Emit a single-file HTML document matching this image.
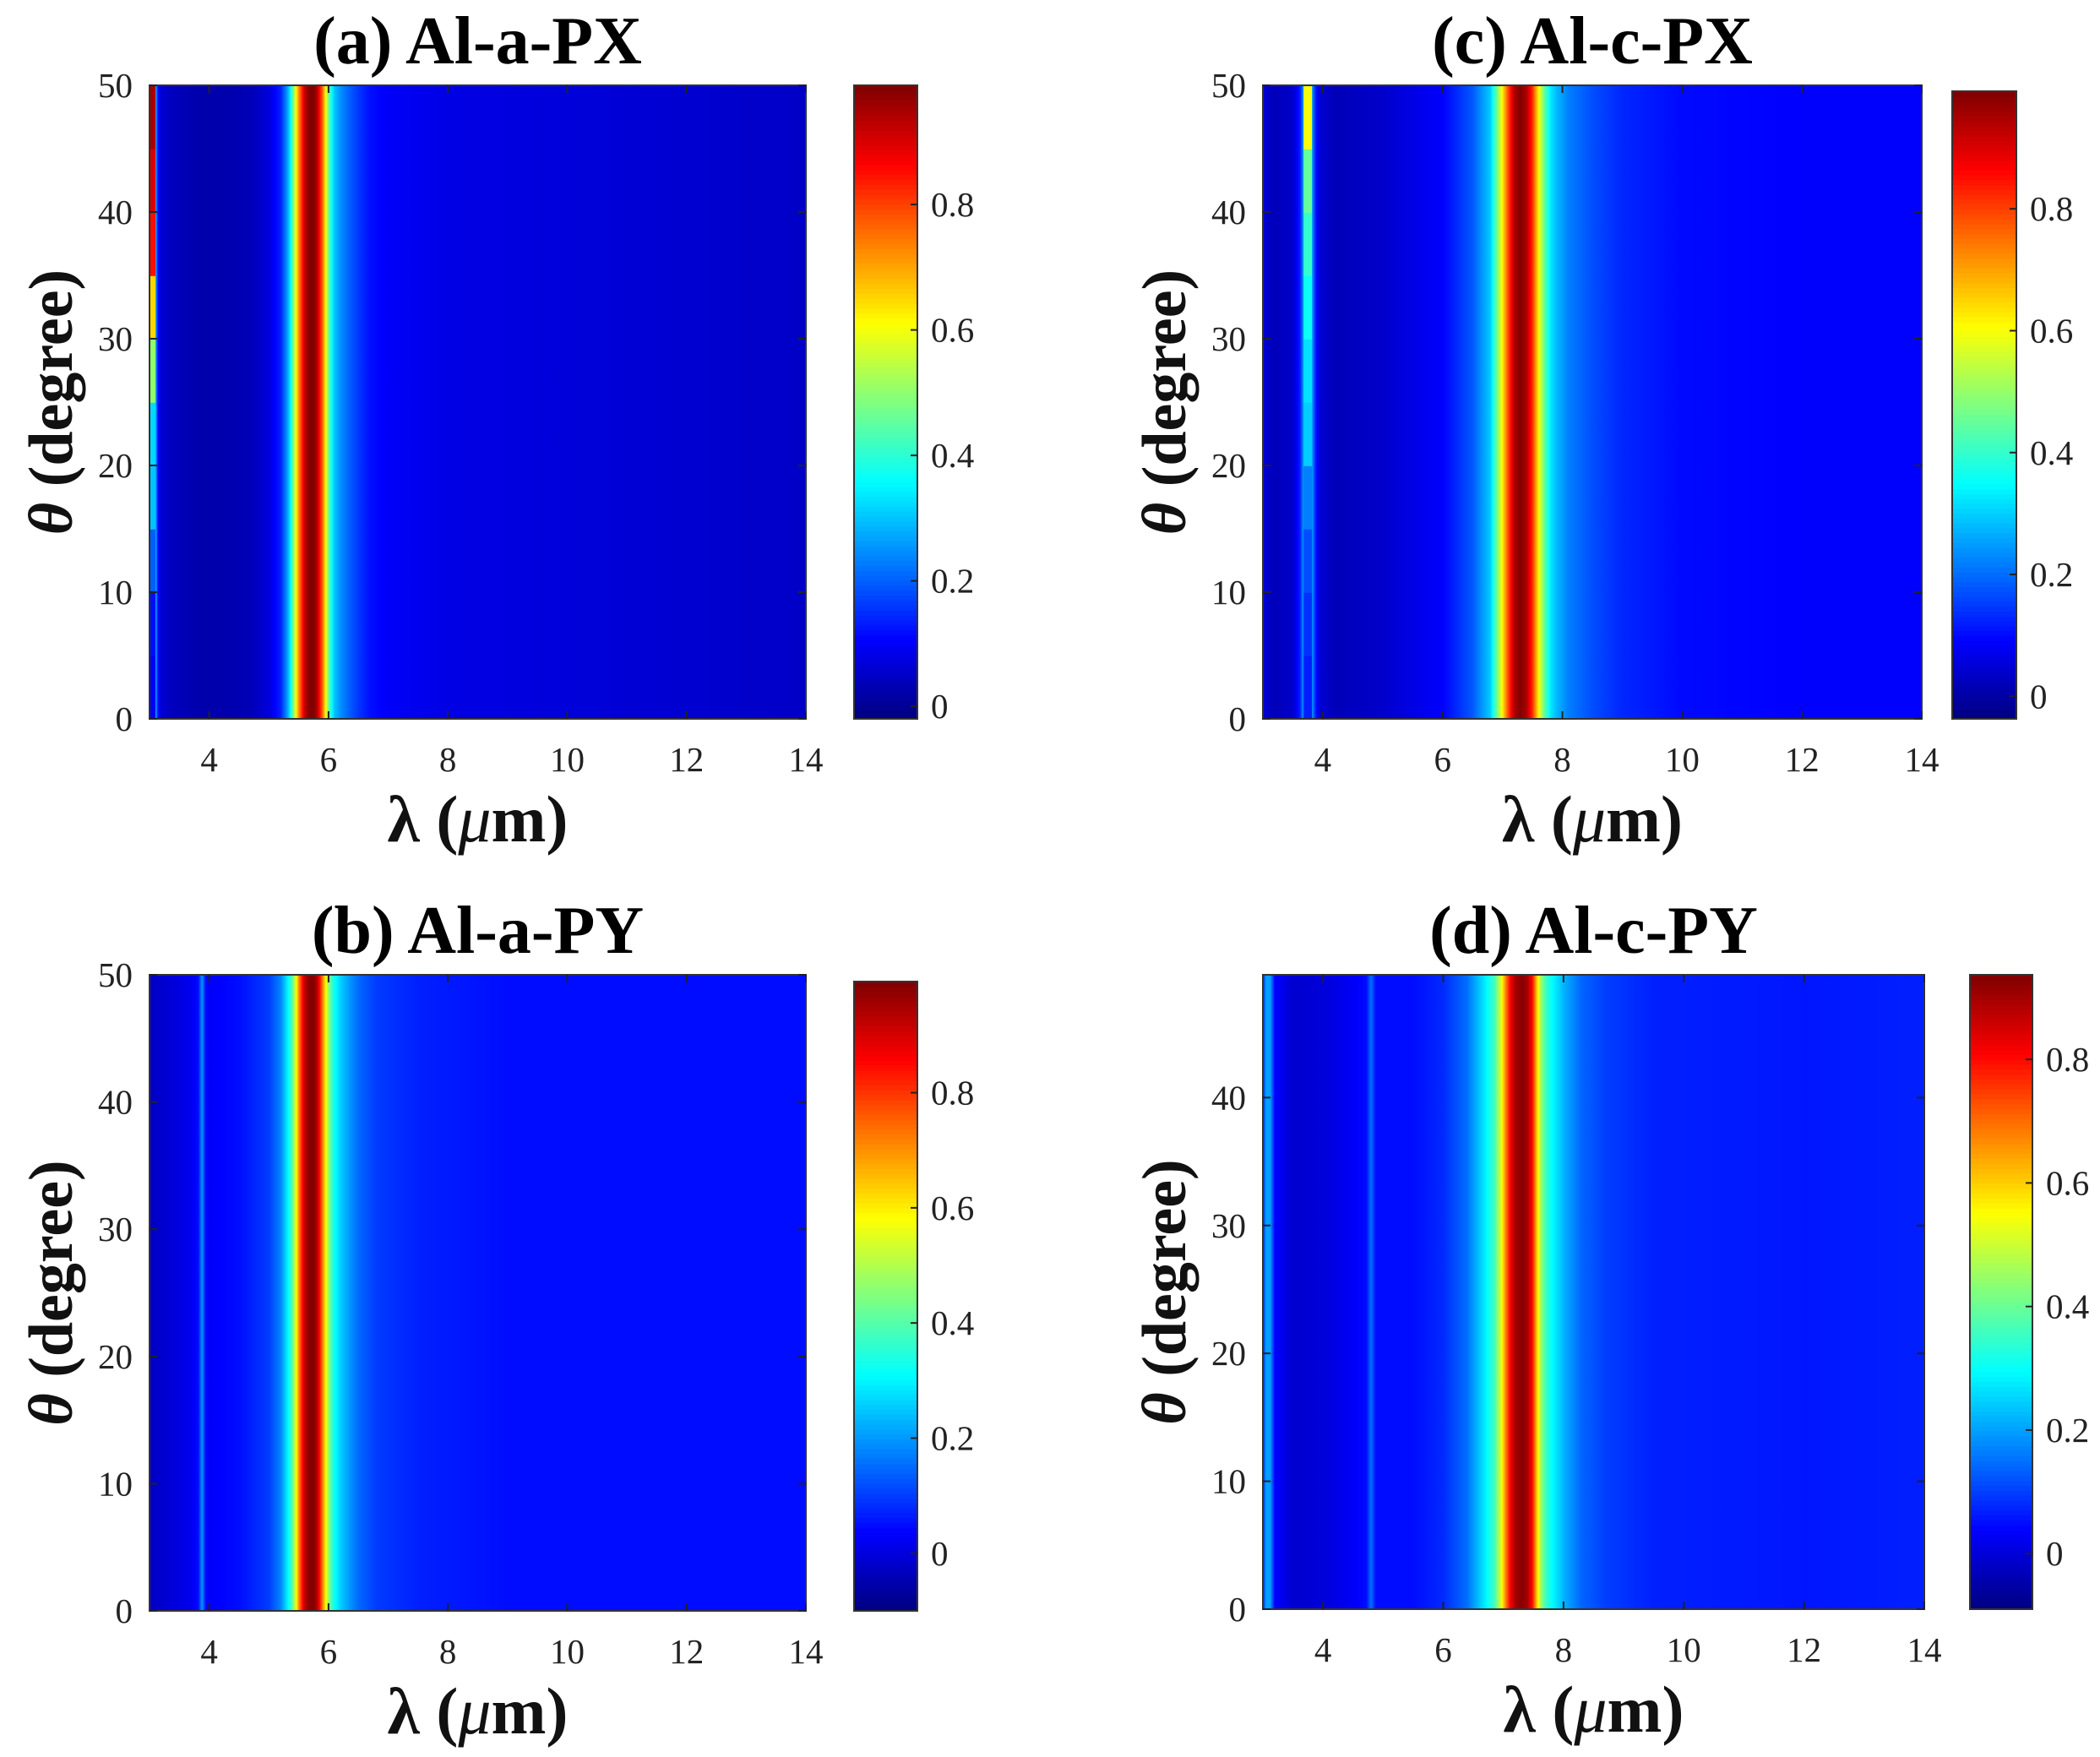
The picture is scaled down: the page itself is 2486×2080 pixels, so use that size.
<!DOCTYPE html>
<html><head><meta charset="utf-8">
<style>
html,body{margin:0;padding:0;background:#fff;}
svg{display:block;}
text{font-family:"Liberation Serif",serif;fill:#222;}
.tick{font-size:41px;}
.ttl{font-size:80px;font-weight:bold;fill:#000;}
.lab{font-size:78px;font-weight:bold;fill:#111;}
.ylab{font-size:74px;font-weight:bold;fill:#111;}
</style></head>
<body>
<svg id="fig" width="2486" height="2080" viewBox="0 0 2486 2080" xmlns="http://www.w3.org/2000/svg"><defs id="defs"></defs></svg>
<script>
// ---- data ----
const xTicks = [4,6,8,10,12,14];
const yTicks = [0,10,20,30,40,50];
const yTicksD = [0,10,20,30,40];
const cbTicks = [0,0.2,0.4,0.6,0.8];
const cbLabels = ["0","0.2","0.4","0.6","0.8"];
const thetaBins = [0,5,10,15,20,25,30,35,40,45,50];

const lamA = [3.0,3.1,3.14,3.2,3.4,3.8,4.3,4.7,5.0,5.2,5.3,5.35,5.4,5.45,5.5,5.55,5.6,5.65,5.7,5.75,5.8,5.85,5.9,5.95,6.0,6.05,6.1,6.2,6.35,6.5,6.7,7,8,10,12,14];
const valA = [0.3,0.3,0.12,0.06,0.04,0.025,0.025,0.035,0.07,0.14,0.25,0.33,0.45,0.6,0.72,0.82,0.92,0.97,0.99,0.99,0.95,0.86,0.76,0.62,0.47,0.37,0.3,0.25,0.2,0.16,0.12,0.1,0.08,0.07,0.06,0.05];
const stripA = [0.1,0.12,0.2,0.3,0.32,0.5,0.65,0.85,0.9,0.95];

const lamC = [3.0,3.2,3.5,3.62,3.7,3.8,3.88,3.95,4.2,5,6,6.5,6.8,6.9,7.0,7.1,7.2,7.3,7.4,7.5,7.6,7.7,7.8,7.9,8.1,8.5,9,10,12,14];
const valC = [0.05,0.02,0.04,0.12,0.3,0.3,0.12,0.05,0.02,0.04,0.09,0.18,0.3,0.45,0.62,0.8,0.95,0.99,0.95,0.82,0.62,0.45,0.33,0.28,0.22,0.17,0.13,0.1,0.09,0.09];
const stripC = [0.12,0.14,0.17,0.22,0.3,0.32,0.36,0.4,0.45,0.6];

const lamB = [3.0,3.3,3.7,3.82,3.88,3.94,4.0,4.5,5.0,5.2,5.3,5.38,5.45,5.5,5.55,5.6,5.65,5.7,5.75,5.8,5.85,5.9,5.95,6.0,6.05,6.1,6.2,6.35,6.5,6.8,7.5,9,11,14];
const valB = [-0.03,-0.01,0.02,0.05,0.2,0.05,0.03,0.05,0.1,0.18,0.28,0.38,0.55,0.7,0.82,0.92,0.97,0.99,0.99,0.95,0.85,0.72,0.6,0.47,0.38,0.32,0.26,0.2,0.15,0.1,0.07,0.05,0.05,0.05];

const lamD = [3.0,3.05,3.12,3.2,3.5,4.0,4.5,4.72,4.8,4.88,5.5,6,6.4,6.7,6.85,6.95,7.05,7.12,7.2,7.3,7.4,7.48,7.55,7.62,7.7,7.8,8.0,8.3,8.7,9.5,12,14];
const valD = [0.05,0.2,0.2,0.04,-0.01,0.0,0.03,0.05,0.15,0.05,0.05,0.08,0.15,0.28,0.36,0.5,0.7,0.82,0.9,0.93,0.9,0.8,0.62,0.46,0.36,0.3,0.22,0.14,0.1,0.07,0.06,0.07];

// ---- layout ----
const panels = [
 {id:"a",title:"(a) Al-a-PX",lam:lamA,val:valA,strip:stripA,stripL:[3.0,3.1],plot:[177,101,954,851],cb:[1011,101,1086,851],clim:[-0.02,0.99],ylim:[0,50],yt:yTicks},
 {id:"c",title:"(c) Al-c-PX",lam:lamC,val:valC,strip:stripC,stripL:[3.68,3.82],plot:[1495,101,2275,851],cb:[2311,108,2387,851],clim:[-0.037,0.993],ylim:[0,50],yt:yTicks},
 {id:"b",title:"(b) Al-a-PY",lam:lamB,val:valB,strip:null,plot:[177,1154,954,1907],cb:[1011,1162,1086,1907],clim:[-0.1,0.993],ylim:[0,50],yt:yTicks},
 {id:"d",title:"(d) Al-c-PY",lam:lamD,val:valD,strip:null,plot:[1495,1154,2278,1905],cb:[2332,1154,2406,1905],clim:[-0.09,0.937],ylim:[0,49.6],yt:yTicksD}
];
const NS="http://www.w3.org/2000/svg";
const svg=document.getElementById('fig');
const defs=document.getElementById('defs');
function el(tag,attrs,parent){const e=document.createElementNS(NS,tag);for(const k in attrs)e.setAttribute(k,attrs[k]);(parent||svg).appendChild(e);return e;}
function clamp(v){return Math.max(0,Math.min(1,v));}
function jet(t){t=clamp(t);const r=clamp(1.5-Math.abs(4*t-3)),g=clamp(1.5-Math.abs(4*t-2)),b=clamp(1.5-Math.abs(4*t-1));return `rgb(${Math.round(r*255)},${Math.round(g*255)},${Math.round(b*255)})`;}

panels.forEach(p=>{
  const [x0,y0,x1,y1]=p.plot;
  const xs=v=>x0+(v-3)/(14-3)*(x1-x0);
  const ys=v=>y1-(v-p.ylim[0])/(p.ylim[1]-p.ylim[0])*(y1-y0);
  const col=v=>jet((v-p.clim[0])/(p.clim[1]-p.clim[0]));
  const g=el('g',{});
  
  
  // gradient across wavelength from data arrays
  const grad=el('linearGradient',{id:'grad-'+p.id,gradientUnits:'userSpaceOnUse',x1:x0,y1:0,x2:x1,y2:0},defs);
  const W=x1-x0;
  for(let i=0;i<p.lam.length;i++){
    const sub=(i<p.lam.length-1)?6:1;
    for(let s=0;s<sub;s++){
      const f=s/sub;
      const l=p.lam[i]+(i<p.lam.length-1?(p.lam[i+1]-p.lam[i])*f:0);
      const v=p.val[i]+(i<p.lam.length-1?(p.val[i+1]-p.val[i])*f:0);
      el('stop',{offset:((xs(l)-x0)/W).toFixed(5),'stop-color':col(v)},grad);
    }
  }
  const hm=el('g',{},g);
  
  
  const bg=el('rect',{x:x0,y:y0,width:W,height:y1-y0,fill:`url(#grad-${p.id})`},hm);
  
  
  if(p.strip){
    for(let j=0;j<p.strip.length;j++){
      const ta=thetaBins[j],tb=thetaBins[j+1];
      const r=el('rect',{x:xs(p.stripL[0]),y:ys(tb),width:xs(p.stripL[1])-xs(p.stripL[0]),height:ys(ta)-ys(tb)+0.8,fill:col(p.strip[j])},hm);
      
      
    }
  }
  const box=el('rect',{x:x0,y:y0,width:W,height:y1-y0,fill:'none',stroke:'#333','stroke-width':2},g);
  
  
  xTicks.forEach(t=>{
    const x=xs(t);
    el('line',{x1:x,x2:x,y1:y1,y2:y1-9,stroke:'#222','stroke-width':2},g);
    el('line',{x1:x,x2:x,y1:y0,y2:y0+9,stroke:'#222','stroke-width':2},g);
    const tx=el('text',{x:x,y:y1+62,'text-anchor':'middle',class:'tick'},g);
    tx.textContent=t;
    
    
  });
  p.yt.forEach(t=>{
    const y=ys(t);
    el('line',{x1:x0,x2:x0+9,y1:y,y2:y,stroke:'#222','stroke-width':2},g);
    el('line',{x1:x1,x2:x1-9,y1:y,y2:y,stroke:'#222','stroke-width':2},g);
    const tx=el('text',{x:x0-20,y:y+14,'text-anchor':'end',class:'tick'},g);
    tx.textContent=t;
    
    
  });
  const ti=el('text',{x:(x0+x1)/2,y:y0-26,'text-anchor':'middle',class:'ttl'},g);
  ti.textContent=p.title;
  
  
  const xl=el('text',{x:(x0+x1)/2,y:y1+145,'text-anchor':'middle',class:'lab'},g);
  xl.innerHTML='λ (<tspan font-style="italic" font-weight="normal">μ</tspan>m)';
  
  
  const cy=(y0+y1)/2, cx=x0-92;
  const yl=el('text',{x:cx,y:cy,'text-anchor':'middle',class:'ylab',transform:`rotate(-90 ${cx} ${cy})`},g);
  yl.innerHTML='<tspan font-style="italic">θ</tspan> (degree)';
  
  
  // colorbar
  const [c0,cy0,c1,cy1]=p.cb;
  const cb=el('g',{},g);
  
  
  const N=128;
  for(let k=0;k<N;k++){
    const h=(cy1-cy0)/N;
    el('rect',{x:c0,y:cy1-(k+1)*h,width:c1-c0,height:h+0.8,fill:jet((k+0.5)/N)},cb);
  }
  el('rect',{x:c0,y:cy0,width:c1-c0,height:cy1-cy0,fill:'none',stroke:'#333','stroke-width':2},cb);
  const cs=v=>cy1-(v-p.clim[0])/(p.clim[1]-p.clim[0])*(cy1-cy0);
  cbTicks.forEach((t,i)=>{
    const y=cs(t);
    el('line',{x1:c1,x2:c1-8,y1:y,y2:y,stroke:'#222','stroke-width':2},cb);
    const tx=el('text',{x:c1+16,y:y+14,class:'tick'},cb);
    tx.textContent=cbLabels[i];
    
    
  });
});
</script>
</body></html>
